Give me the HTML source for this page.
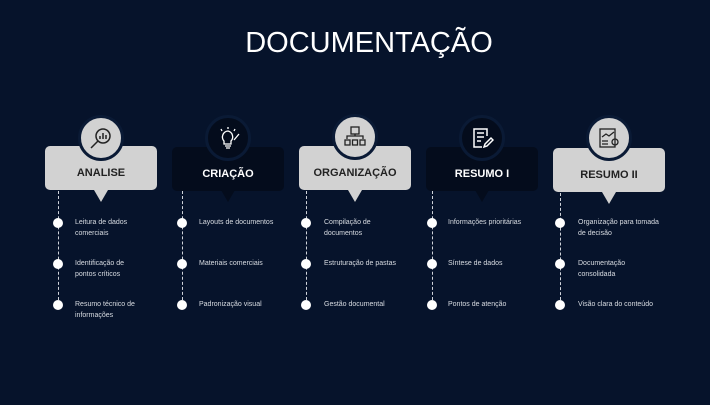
<!DOCTYPE html>
<html><head><meta charset="utf-8"><style>
*{margin:0;padding:0;box-sizing:border-box}
body{width:710px;height:405px;background:#06132b;position:relative;overflow:hidden;font-family:"Liberation Sans",sans-serif}
.t{position:absolute;left:0;width:738px;top:27px;text-align:center;color:#fff;font-size:29px}
.box{position:absolute;width:112px;height:44px;border-radius:5px;text-align:center;font-weight:bold;font-size:11px;line-height:54px}
.l{background:#d2d2d2;color:#222}
.d{background:#040c1c;color:#fff}
.tri{position:absolute;width:0;height:0;border-left:7px solid transparent;border-right:7px solid transparent}
.c{position:absolute;width:46px;height:46px;border-radius:50%;border:3px solid #0a1a35}
.cl{background:#d2d2d2}.cd{background:#040c1c}
.c svg{position:absolute;left:8px;top:8px}
.ln{position:absolute;width:0;border-left:1px dashed #cfd3da}
.dot{position:absolute;width:10px;height:10px;border-radius:50%;background:#fff}
.tx{position:absolute;color:#d8dce2;font-size:7px;line-height:10.5px;width:90px}
</style></head><body>
<div class="t">DOCUMENTAÇÃO</div>

<!-- col1 -->
<div class="box l" style="left:45px;top:146px">ANALISE</div>
<div class="tri" style="left:94px;top:190px;border-top:12px solid #d2d2d2"></div>
<div class="c cl" style="left:78px;top:115px"><svg width="24" height="24" viewBox="0 0 24 24" fill="none" stroke="#222" stroke-width="1.5"><circle cx="14" cy="10" r="7"/><path d="M9 15L2 22"/><path d="M11 13v-3M14 13V7M17 13V9"/></svg></div>
<!-- col2 -->
<div class="box d" style="left:172px;top:147px">CRIAÇÃO</div>
<div class="tri" style="left:221px;top:190px;border-top:12px solid #040c1c"></div>
<div class="c cd" style="left:205px;top:115px"><svg width="24" height="24" viewBox="0 0 24 24" fill="none" stroke="#fff" stroke-width="1.3"><path d="M12 5a6 6 0 0 0-4 10v3h7v-3a6 6 0 0 0-3-10z"/><path d="M9 20h6M10 22h4M12 1v2M5 3l1 2M19 3l-1 2M18 14l5-6"/></svg></div>
<!-- col3 -->
<div class="box l" style="left:299px;top:146px">ORGANIZAÇÃO</div>
<div class="tri" style="left:348px;top:190px;border-top:12px solid #d2d2d2"></div>
<div class="c cl" style="left:332px;top:114px"><svg width="24" height="24" viewBox="0 0 24 24" fill="none" stroke="#222" stroke-width="1.3"><rect x="8" y="2" width="8" height="7"/><path d="M4 14v-3h16v3M12 9v2"/><rect x="2" y="15" width="5" height="5"/><rect x="9.5" y="15" width="5" height="5"/><rect x="17" y="15" width="5" height="5"/></svg></div>
<!-- col4 -->
<div class="box d" style="left:426px;top:147px">RESUMO I</div>
<div class="tri" style="left:475px;top:190px;border-top:12px solid #040c1c"></div>
<div class="c cd" style="left:459px;top:115px"><svg width="24" height="24" viewBox="0 0 24 24" fill="none" stroke="#fff" stroke-width="1.5"><path d="M17 10V3H4v18h8"/><path d="M7 7h7M7 11h7M7 15h4M14 21l1-3 6-6 2 2-6 6z"/></svg></div>
<!-- col5 -->
<div class="box l" style="left:553px;top:148px">RESUMO II</div>
<div class="tri" style="left:602px;top:192px;border-top:12px solid #d2d2d2"></div>
<div class="c cl" style="left:586px;top:115px"><svg width="24" height="24" viewBox="0 0 24 24" fill="none" stroke="#222" stroke-width="1.3"><rect x="3" y="3" width="15" height="18"/><path d="M5 11l4-3 3 2 5-4M5 15h6M5 18h6"/><circle cx="18" cy="16" r="3"/></svg></div>

<!-- lines & dots -->
<div class="ln" style="left:58px;top:191px;height:114px"></div>
<div class="ln" style="left:182px;top:191px;height:114px"></div>
<div class="ln" style="left:306px;top:191px;height:114px"></div>
<div class="ln" style="left:432px;top:191px;height:114px"></div>
<div class="ln" style="left:560px;top:193px;height:112px"></div>

<div class="dot" style="left:53px;top:218px"></div><div class="dot" style="left:53px;top:259px"></div><div class="dot" style="left:53px;top:300px"></div>
<div class="dot" style="left:177px;top:218px"></div><div class="dot" style="left:177px;top:259px"></div><div class="dot" style="left:177px;top:300px"></div>
<div class="dot" style="left:301px;top:218px"></div><div class="dot" style="left:301px;top:259px"></div><div class="dot" style="left:301px;top:300px"></div>
<div class="dot" style="left:427px;top:218px"></div><div class="dot" style="left:427px;top:259px"></div><div class="dot" style="left:427px;top:300px"></div>
<div class="dot" style="left:555px;top:218px"></div><div class="dot" style="left:555px;top:259px"></div><div class="dot" style="left:555px;top:300px"></div>

<div class="tx" style="left:75px;top:218px;width:70px">Leitura de dados comerciais</div>
<div class="tx" style="left:75px;top:259px;width:60px">Identificação de pontos críticos</div>
<div class="tx" style="left:75px;top:300px;width:70px">Resumo técnico de informações</div>

<div class="tx" style="left:199px;top:218px">Layouts de documentos</div>
<div class="tx" style="left:199px;top:259px">Materiais comerciais</div>
<div class="tx" style="left:199px;top:300px">Padronização visual</div>

<div class="tx" style="left:324px;top:218px;width:65px">Compilação de documentos</div>
<div class="tx" style="left:324px;top:259px">Estruturação de pastas</div>
<div class="tx" style="left:324px;top:300px">Gestão documental</div>

<div class="tx" style="left:448px;top:218px">Informações prioritárias</div>
<div class="tx" style="left:448px;top:259px">Síntese de dados</div>
<div class="tx" style="left:448px;top:300px">Pontos de atenção</div>

<div class="tx" style="left:578px;top:218px;width:90px">Organização para tomada de decisão</div>
<div class="tx" style="left:578px;top:259px;width:60px">Documentação consolidada</div>
<div class="tx" style="left:578px;top:300px">Visão clara do conteúdo</div>
</body></html>
